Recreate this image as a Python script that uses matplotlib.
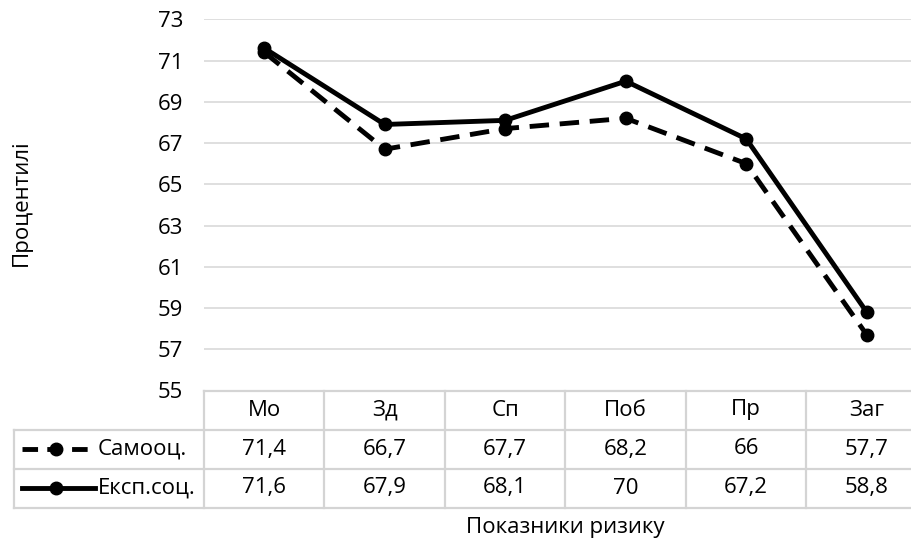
import matplotlib
matplotlib.use("Agg")
import matplotlib.pyplot as plt
from matplotlib.lines import Line2D

plt.rcParams['font.family'] = ['Open Sans', 'DejaVu Sans']

categories = ["Мо", "Зд", "Сп", "Поб", "Пр", "Заг"]
self_est = [71.4, 66.7, 67.7, 68.2, 66, 57.7]
expert = [71.6, 67.9, 68.1, 70, 67.2, 58.8]
self_labels = ["71,4", "66,7", "67,7", "68,2", "66", "57,7"]
expert_labels = ["71,6", "67,9", "68,1", "70", "67,2", "58,8"]
series_names = ["Самооц.", "Експ.соц."]
yticks = [55, 57, 59, 61, 63, 65, 67, 69, 71, 73]

FS = 16
W, H = 912, 544
fig = plt.figure(figsize=(W / 100, H / 100), dpi=100)
# plot area in pixels: left 204, right 927 (cropped by figure edge), top 19, bottom 390.5
left, right, top, bottom = 204, 927, 19.3, 390.5
ax = fig.add_axes([left / W, 1 - bottom / H, (right - left) / W, (bottom - top) / H])

x = list(range(len(categories)))
LW = 3.5
MS = 9
dash = (0, (4.0, 2.2))
ax.plot(x, self_est, color='black', lw=LW, linestyle=dash, marker='o', ms=MS,
        dash_capstyle='butt', zorder=3)
ax.plot(x, expert, color='black', lw=LW, marker='o', ms=MS, zorder=4)

ax.set_xlim(-0.5, len(categories) - 0.5)
ax.set_ylim(55, 73)
ax.set_yticks(yticks)
ax.set_yticklabels([str(t) for t in yticks], fontsize=FS)
ax.tick_params(axis='y', length=0, pad=15)
ax.tick_params(axis='x', length=0, labelbottom=False)
ax.grid(axis='y', color='#d9d9d9', lw=1.2)
ax.set_axisbelow(True)
for s in ax.spines.values():
    s.set_visible(False)

# data table below the axis
grid_c = '#d4d4d4'
row_h = 39 / (bottom - top)  # in axes fraction
px = (len(categories)) / (right - left)  # data units per pixel
x_left_tab = -0.5 - (left - 14) * px
tr = ax.get_xaxis_transform()
xr = len(categories) - 0.5

def hline(x0, x1, y):
    ax.add_line(Line2D([x0, x1], [y, y], transform=tr, color=grid_c, lw=1.6, clip_on=False))

def vline(xv, y0, y1):
    ax.add_line(Line2D([xv, xv], [y0, y1], transform=tr, color=grid_c, lw=1.6, clip_on=False))

hline(-0.5, xr, 0)
hline(x_left_tab, xr, -row_h)
hline(x_left_tab, xr, -2 * row_h)
hline(x_left_tab, xr, -3 * row_h)
vline(x_left_tab, -row_h, -3 * row_h)
for i in range(len(categories) + 1):
    vline(-0.5 + i, 0, -3 * row_h)

for i, c in enumerate(categories):
    ax.text(i, -0.5 * row_h, c, transform=tr, ha='center', va='center', fontsize=FS)
    ax.text(i, -1.5 * row_h, self_labels[i], transform=tr, ha='center', va='center', fontsize=FS)
    ax.text(i, -2.5 * row_h, expert_labels[i], transform=tr, ha='center', va='center', fontsize=FS)

# legend keys inside the table
k0 = -0.5 - (left - 22) * px
k1 = -0.5 - (left - 95) * px
km = -0.5 - (left - 56) * px
y1 = -1.5 * row_h
y2 = -2.5 * row_h
ax.add_line(Line2D([k0, k1], [y1, y1], transform=tr, color='black', lw=LW, linestyle=(0, (3.2, 1.9)),
                   clip_on=False))
ax.add_line(Line2D([km], [y1], transform=tr, color='black', marker='o', ms=MS, clip_on=False))
ax.add_line(Line2D([k0, k1], [y2, y2], transform=tr, color='black', lw=LW, clip_on=False))
ax.add_line(Line2D([km], [y2], transform=tr, color='black', marker='o', ms=MS, clip_on=False))
tx = -0.5 - (left - 98) * px
ax.text(tx, y1, series_names[0], transform=tr, ha='left', va='center', fontsize=FS)
ax.text(tx, y2, series_names[1], transform=tr, ha='left', va='center', fontsize=FS)

fig.text(565 / W, 1 - 528 / H, "Показники ризику", ha='center', va='center', fontsize=FS)
fig.text(21 / W, 1 - 203 / H, "Процентилі", ha='center', va='center', rotation=90, fontsize=FS)

fig.savefig("out.png", dpi=100)
